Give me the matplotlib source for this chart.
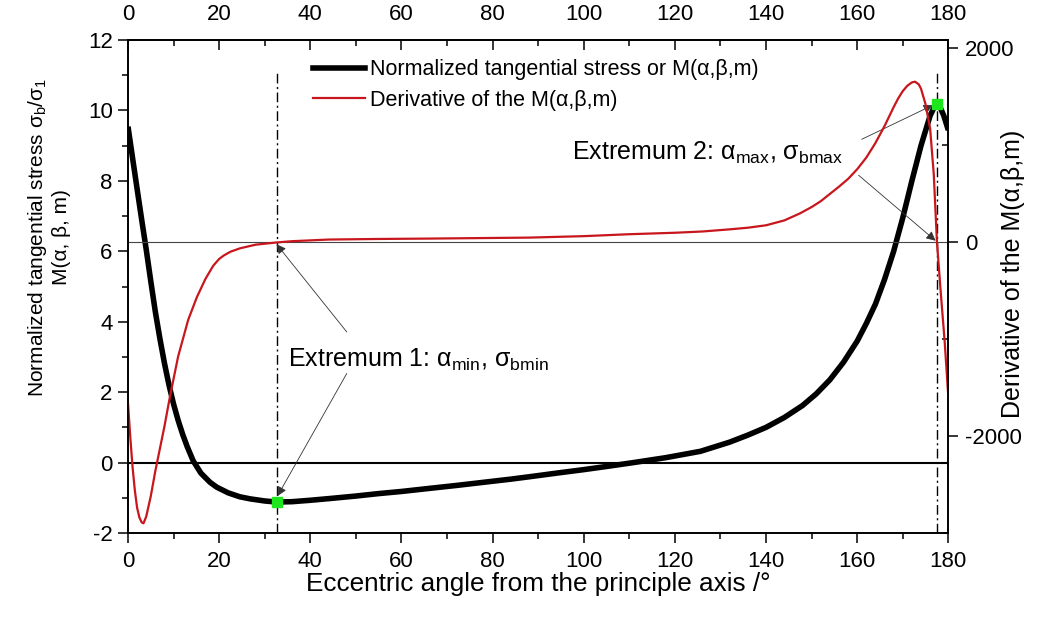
import numpy as np
import matplotlib
matplotlib.use("Agg")
import matplotlib.pyplot as plt
from matplotlib.lines import Line2D
from matplotlib.ticker import MultipleLocator

plt.rcParams['font.family'] = ['Liberation Sans', 'DejaVu Sans']
plt.rcParams['mathtext.default'] = 'regular'
plt.rcParams['axes.unicode_minus'] = False

# normalized tangential stress M(alpha, beta, m)
angle_m = [0, 1, 2, 3, 4, 5, 6, 7, 8, 9, 10, 11, 12, 13, 14.3, 16, 18, 19.5,
           22, 24.5, 26.8, 30, 32.6, 36, 40, 44.3, 50, 55, 60, 66.3, 72, 78, 84,
           88.2, 94, 100, 105, 110.9, 118, 125.6, 132, 136, 140, 144, 148, 151,
           154, 157, 160, 162, 164, 166, 168, 170, 172, 174, 176, 177, 177.5, 178,
           179, 180]
stress_m = [9.54, 8.65, 7.77, 6.9, 6.05, 5.15, 4.28, 3.52, 2.82, 2.2, 1.66, 1.2,
            0.8, 0.45, 0.05, -0.3, -0.56, -0.7, -0.86, -0.97, -1.03, -1.09, -1.12,
            -1.11, -1.07, -1.02, -0.95, -0.88, -0.82, -0.73, -0.65, -0.56, -0.47,
            -0.40, -0.3, -0.2, -0.11, 0.0, 0.14, 0.32, 0.58, 0.78, 1.0, 1.28, 1.62,
            1.95, 2.35, 2.85, 3.45, 3.95, 4.5, 5.2, 6.0, 6.95, 8.0, 9.0, 9.85, 10.12,
            10.18, 10.15, 9.85, 9.44]

# derivative of M (right axis)
angle_d = [0, 0.5, 1, 1.5, 2, 2.5, 3, 3.4, 4, 5, 6, 7, 8, 9.2, 11, 13.2, 15.1, 17,
           18.7, 20, 21, 22.5, 24.6, 28, 32.6, 36, 44, 55, 66, 77, 88, 100, 110, 120,
           126, 132, 136, 140, 144, 147.5, 150, 152, 154, 156, 158, 160, 162, 164, 166,
           168, 169, 170, 171, 172, 172.7, 173.5, 174, 175, 176, 176.8, 177.5, 178.3,
           179.2, 180]
deriv_d = [-1663, -2010, -2320, -2560, -2740, -2840, -2890, -2900, -2830, -2620,
           -2360, -2130, -1900, -1595, -1180, -804, -570, -380, -245, -175, -140,
           -100, -65, -28, -5, 8, 25, 31, 35, 40, 45, 60, 80, 95, 108, 130, 147,
           172, 222, 296, 360, 420, 495, 570, 650, 750, 870, 1020, 1195, 1390, 1480,
           1555, 1610, 1645, 1652, 1625, 1580, 1420, 1170, 700, 0, -500, -1030, -1600]

ext_angle = [32.6, 177.5]
ext_stress = [-1.12, 10.18]

red = '#c8161d'
fig = plt.figure(figsize=(10.64, 6.18), dpi=100)
ax = fig.add_axes([0.1203, 0.1375, 0.7710, 0.7978])
ax2 = ax.twinx()

ax.axhline(0, color='k', lw=1.5, zorder=1)
ax.vlines(ext_angle, -2, 11.06, colors='k', lw=1.0, linestyles=(0, (7, 2.5, 1.5, 2.5)), zorder=1)
ax.plot(angle_m, stress_m, color='k', lw=4, solid_capstyle='butt', solid_joinstyle='round', zorder=3)
ax.plot(ext_angle, ext_stress, 's', color='#1ee61e', ms=7.5, zorder=4)

ax2.axhline(0, color='#444444', lw=0.8)
ax2.plot(angle_d, deriv_d, color=red, lw=1.6, solid_joinstyle='round')

ax.set_xlim(0, 180)
ax.set_ylim(-2, 12)
ax2.set_ylim(-3000, 2082)

ax.xaxis.set_major_locator(MultipleLocator(20))
ax.xaxis.set_minor_locator(MultipleLocator(10))
ax.yaxis.set_major_locator(MultipleLocator(2))
ax.yaxis.set_minor_locator(MultipleLocator(1))
ax2.yaxis.set_major_locator(MultipleLocator(2000))
ax2.yaxis.set_minor_locator(MultipleLocator(1000))

for a in (ax, ax2):
    for s in a.spines.values():
        s.set_linewidth(1.2)

ax.tick_params(which='major', direction='out', length=7, width=1.1, labelsize=16, pad=4)
ax.tick_params(which='minor', direction='out', length=4, width=1.1)
ax.tick_params(axis='x', pad=6)
ax2.tick_params(which='major', direction='out', length=7, width=1.1, labelsize=16, pad=5)
ax2.tick_params(which='minor', direction='in', length=4, width=1.1)

top = ax.secondary_xaxis('top')
top.xaxis.set_major_locator(MultipleLocator(20))
top.xaxis.set_minor_locator(MultipleLocator(10))
top.tick_params(which='major', direction='in', length=7, width=1.1, labelsize=16, pad=11)
top.tick_params(which='minor', direction='in', length=4, width=1.1)
top.spines['top'].set_linewidth(1.2)

ax.set_xlabel('Eccentric angle from the principle axis /°', fontsize=18.8, labelpad=0)
ax.set_ylabel('Normalized tangential stress $σ_{b}/σ_{1}$\nM(α, β, m)', fontsize=15,
              va='center', ha='center', linespacing=1.2)
ax.yaxis.set_label_coords(-0.097, 0.600)
ax2.set_ylabel('Derivative of the M(α,β,m)', fontsize=18, rotation=90, va='center', ha='center')
ax2.yaxis.set_label_coords(1.079, 0.525)

handles = [Line2D([], [], color='k', lw=4), Line2D([], [], color=red, lw=1.6)]
labels = ['Normalized tangential stress or M(α,β,m)', 'Derivative of the M(α,β,m)']
ax2.legend(handles, labels, loc='upper left', bbox_to_anchor=(0.2256, 0.961), frameon=False,
           borderpad=0, borderaxespad=0, handlelength=2.4, handletextpad=0.25,
           labelspacing=0.45, fontsize=15.5)

arrow = dict(arrowstyle='-|>', color='#333333', lw=0.6, mutation_scale=14, shrinkA=0, shrinkB=0)
ax.text(35.1, 2.72, 'Extremum 1: $α_{min}$, $σ_{bmin}$', fontsize=18, va='baseline')
ax.annotate('', xy=(32.6, 6.2), xytext=(48.0, 3.71), arrowprops=arrow)
ax.annotate('', xy=(32.8, -0.95), xytext=(48.0, 2.53), arrowprops=arrow)
ax.text(97.4, 8.59, 'Extremum 2: $α_{max}$, $σ_{bmax}$', fontsize=18, va='baseline')
ax.annotate('', xy=(176.6, 10.15), xytext=(161.0, 9.18), arrowprops=arrow)
ax.annotate('', xy=(177.2, 6.3), xytext=(160.3, 8.16), arrowprops=arrow)

fig.savefig('out.png', dpi=100)
